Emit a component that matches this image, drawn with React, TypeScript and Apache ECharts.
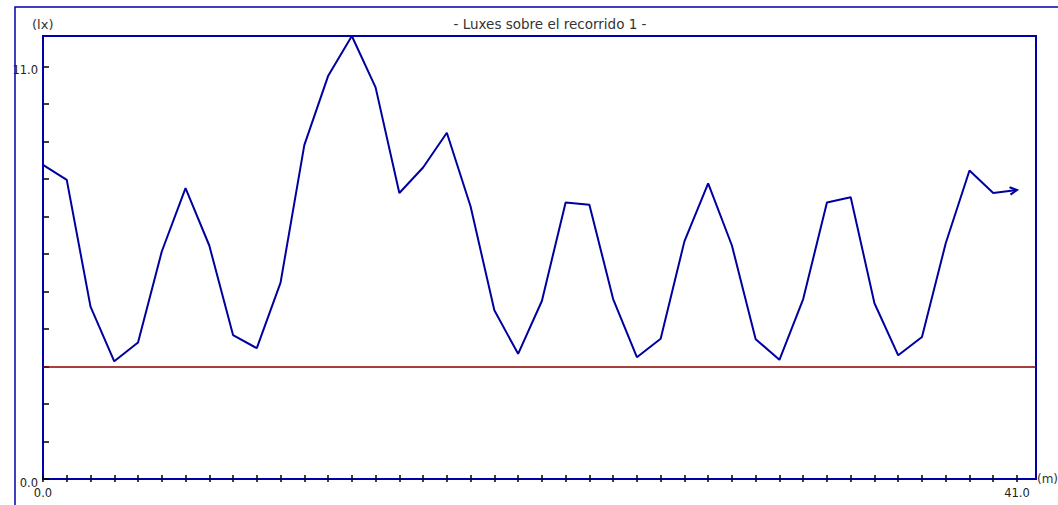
import React, { useEffect, useRef } from "react";
import * as echarts from "echarts";

// Distance along the route (m)
const distances = [
  0, 1, 2, 3, 4, 5, 6, 7, 8, 9, 10, 11, 12, 13, 14, 15, 16, 17, 18, 19, 20,
  21, 22, 23, 24, 25, 26, 27, 28, 29, 30, 31, 32, 33, 34, 35, 36, 37, 38, 39,
  40, 41,
];
// Illuminance (lx)
const luxes = [
  8.38, 7.98, 4.6, 3.14, 3.64, 6.07, 7.76, 6.23, 3.84, 3.49, 5.24, 8.91, 10.75,
  11.82, 10.45, 7.63, 8.31, 9.24, 7.27, 4.5, 3.34, 4.75, 7.38, 7.32, 4.8, 3.25,
  3.74, 6.34, 7.89, 6.23, 3.73, 3.18, 4.8, 7.38, 7.52, 4.69, 3.3, 3.79, 6.29,
  8.23, 7.63, 7.71,
];
const minimumLux = 3.0;
const xLabelValues = [0, 41];
const yLabelValues = [0, 11];
const yTickValues = [0, 1, 2, 3, 4, 5, 6, 7, 8, 9, 10, 11];
const xMax = 41.8;
const yMax = 11.82;
const titleText = "- Luxes sobre el recorrido 1 -";
const yUnit = "(lx)";
const xUnit = "(m)";

const FRAME = "#0000AA";
const LINE = "#0000A0";
const FONT = "DejaVu Sans, Verdana, sans-serif";

export default function App() {
  const ref = useRef<HTMLDivElement>(null);
  useEffect(() => {
    if (!ref.current) return;
    const chart = echarts.init(ref.current, undefined, { renderer: "svg" });
    const fmt = (v: number) => v.toFixed(1);
    chart.setOption({
      animation: false,
      backgroundColor: "#ffffff",
      grid: {
        left: 43,
        top: 36,
        width: 993,
        height: 443,
        show: true,
        borderColor: FRAME,
        borderWidth: 2,
        backgroundColor: "#ffffff",
      },
      xAxis: [
        {
          type: "value",
          min: 0,
          max: xMax,
          position: "bottom",
          axisLine: { show: true, lineStyle: { color: FRAME, width: 2 } },
          axisTick: {
            show: true,
            inside: true,
            length: 4,
            customValues: distances,
            lineStyle: { color: "#000", width: 1.5 },
          },
          axisLabel: {
            show: true,
            customValues: xLabelValues,
            formatter: fmt,
            margin: 8,
            color: "#222",
            fontSize: 11.5,
            fontFamily: FONT,
          },
          splitLine: { show: false },
        },
        {
          type: "value",
          min: 0,
          max: xMax,
          position: "bottom",
          axisLine: { show: false },
          axisTick: {
            show: true,
            inside: false,
            length: 3,
            customValues: distances,
            lineStyle: { color: "#000", width: 1.5 },
          },
          axisLabel: { show: false },
          splitLine: { show: false },
        },
      ],
      yAxis: {
        type: "value",
        min: 0,
        max: yMax,
        axisLine: { show: true, lineStyle: { color: FRAME, width: 2 } },
        axisTick: {
          show: true,
          inside: true,
          length: 6,
          customValues: yTickValues,
          lineStyle: { color: "#000", width: 1.5 },
        },
        axisLabel: {
          show: true,
          customValues: yLabelValues,
          formatter: (v: number) => `{a|${fmt(v)}}`,
          margin: 5,
          rich: {
            a: {
              color: "#222",
              fontSize: 11.5,
              fontFamily: FONT,
              padding: [7, 0, 0, 0],
            },
          },
        },
        splitLine: { show: false },
      },
      series: [
        {
          type: "line",
          xAxisIndex: 0,
          yAxisIndex: 0,
          data: distances.map((d, i) => [d, luxes[i]]),
          symbol: "none",
          clip: false,
          lineStyle: { color: LINE, width: 2 },
          markLine: {
            silent: true,
            symbol: ["none", "none"],
            label: { show: false },
            lineStyle: { color: "#880000", width: 1.5, type: "solid" },
            data: [{ yAxis: minimumLux }],
          },
        },
      ],
    });

    const n = distances.length;
    const a = chart.convertToPixel({ xAxisIndex: 0, yAxisIndex: 0 }, [
      distances[n - 2],
      luxes[n - 2],
    ]) as number[];
    const b = chart.convertToPixel({ xAxisIndex: 0, yAxisIndex: 0 }, [
      distances[n - 1],
      luxes[n - 1],
    ]) as number[];
    const ang = Math.atan2(b[1] - a[1], b[0] - a[0]);
    const wl = 8;
    const spread = (28 * Math.PI) / 180;
    const w1 = [
      b[0] - wl * Math.cos(ang - spread),
      b[1] - wl * Math.sin(ang - spread),
    ];
    const w2 = [
      b[0] - wl * Math.cos(ang + spread),
      b[1] - wl * Math.sin(ang + spread),
    ];

    chart.setOption({
      graphic: [
        {
          type: "rect",
          shape: { x: 15, y: 7, width: 1200, height: 700 },
          style: { fill: "none", stroke: FRAME, lineWidth: 1.5 },
          silent: true,
          z: 0,
        },
        {
          type: "text",
          x: 550,
          y: 24,
          style: {
            text: titleText,
            fill: "#333",
            font: `13.5px ${FONT}`,
            textAlign: "center",
            textVerticalAlign: "middle",
          },
        },
        {
          type: "text",
          x: 32,
          y: 24,
          style: {
            text: yUnit,
            fill: "#333",
            font: `13px ${FONT}`,
            textAlign: "left",
            textVerticalAlign: "middle",
          },
        },
        {
          type: "text",
          x: 1037,
          y: 479,
          style: {
            text: xUnit,
            fill: "#333",
            font: `12px ${FONT}`,
            textAlign: "left",
            textVerticalAlign: "middle",
          },
        },
        {
          type: "polyline",
          shape: { points: [w1, [b[0], b[1]], w2] },
          style: { stroke: LINE, lineWidth: 2, fill: "none" },
          z: 10,
        },
      ],
    });

    return () => chart.dispose();
  }, []);
  return (
    <div
      ref={ref}
      style={{ position: "fixed", left: 0, top: 0, width: 1058, height: 505 }}
    />
  );
}
